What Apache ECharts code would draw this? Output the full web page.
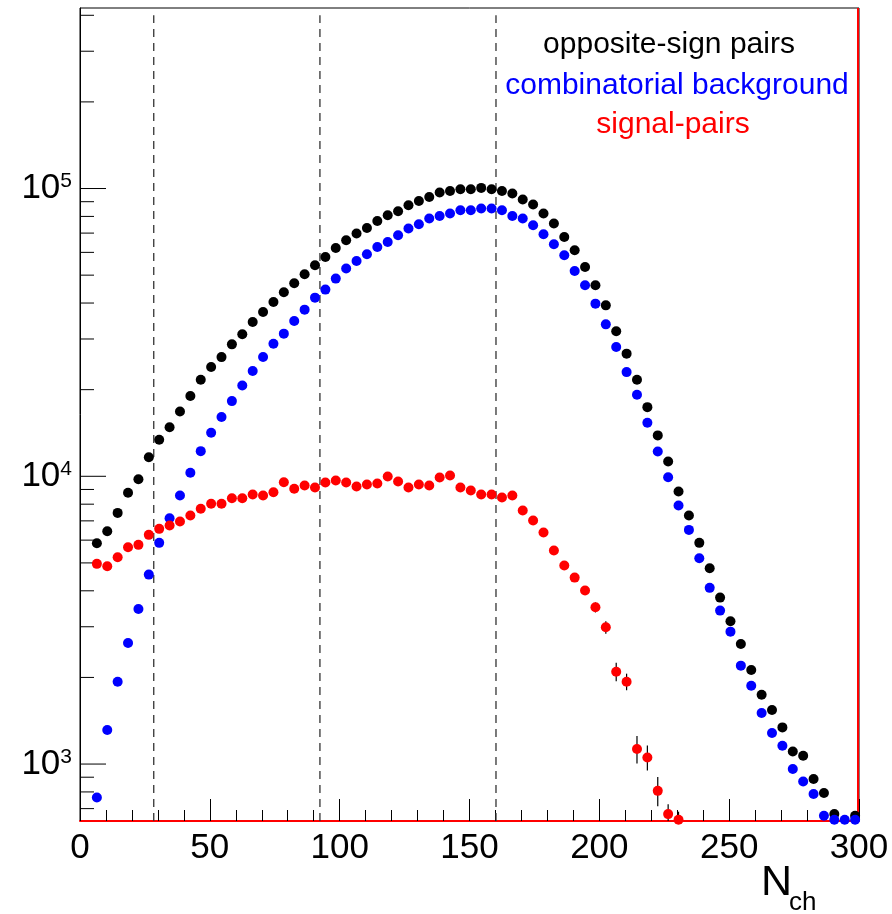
<!DOCTYPE html>
<html><head><meta charset="utf-8">
<script src="https://cdn.jsdelivr.net/npm/echarts@6/dist/echarts.min.js"></script>
<style>html,body{margin:0;padding:0;background:#fff}#c{width:892px;height:914px}</style>
</head><body><div id="c"></div>
<script>
// ---- data ----
const nch = [6.5,10.5,14.5,18.5,22.5,26.5,30.5,34.5,38.5,42.5,46.5,50.5,54.5,58.5,62.5,66.5,70.5,74.5,78.5,82.5,86.5,90.5,94.5,98.5,102.5,106.5,110.5,114.5,118.5,122.5,126.5,130.5,134.5,138.5,142.5,146.5,150.5,154.5,158.5,162.5,166.5,170.5,174.5,178.5,182.5,186.5,190.5,194.5,198.5,202.5,206.5,210.5,214.5,218.5,222.5,226.5,230.5,234.5,238.5,242.5,246.5,250.5,254.5,258.5,262.5,266.5,270.5,274.5,278.5,282.5,286.5,290.5,294.5,298.5];
const oppositeSign = [5850,6440,7460,8760,9770,11650,13400,14800,16800,19000,21650,23970,25950,28740,31140,34360,37230,40350,
  43590,46840,50350,54100,57830,62150,66110,69750,72950,77170,80740,83370,87480,90550,93500,96850,98100,99450,99450,100500,99450,98100,96070,91550,87960,81850,75550,67880,61000,53350,46090,
  39270,31900,26680,21660,17390,13870,11260,8860,7305,5870,4790,3788,3133,2615,2123,1742,1541,1341,1106,1069,887,793,670,null,661];
const combBackground = [765,1313,1933,2636,3460,4553,5870,7150,8575,10280,12230,14170,16060,18250,20690,23210,25960,28900,31310,34640,
  37940,41770,44540,48640,52700,56010,59080,62650,65210,68800,72600,75120,78660,80310,81850,84040,84040,85210,85210,84040,80310,78660,74520,69340,64020,58610,51700,46090,39810,
  33730,28120,23020,19210,15350,12200,9930,7914,6513,5190,4095,3414,2885,2198,1872,1504,1282,1158,961,870,787,661,640,640,640];
const signalPairs = [4963,4868,5231,5667,5777,6258,6567,6743,6962,7306,7709,8023,8023,8391,8391,8644,8577,8805,9539,9049,
  9290,9140,9515,9670,9515,9215,9365,9440,9985,9590,9140,9365,9290,9905,10065,9140,8925,8645,8645,8440,8575,7603,7020,6375,5520,4895,4446,
  4007,3505,2987,2094,1933,1128,1054,807,670,640,null,null,null,null,null,null,null,null,null,null,null,null,null,null,null,null,null];
const signalErr = [0,0,0,0,0,0,0,0,0,0,0,0,0,0,0,0,0,0,0,0,0,0,0,0,0,0,0,0,0,0,0,0,0,0,0,0,0,0,0,0,0,0,0,0,0,0,0,
  130,140,150,155,128,124,105,94,55,43,0,0,0,0,0,0,0,0,0,0,0,0,0,0,0,0,0];
const yMajorTicks = [1000, 10000, 100000];
const yMinorTicks = [700,800,900,2000,3000,4000,5000,6000,7000,8000,9000,20000,30000,40000,50000,60000,70000,80000,90000,200000,300000,400000];
const cutPositions = [28.4, 92.4, 160.2];
const cutTop = 400000;
const yMin = 634, yMax = 424000;
const xMin = 0, xMax = 300, xStep = 50;
const legendLines = ['opposite-sign pairs', 'combinatorial background', 'signal-pairs'];
const axisTitleMain = 'N', axisTitleSub = 'ch';

// ---- chart ----
const FONT = "'Liberation Sans', Arial, Helvetica, sans-serif";
const chart = echarts.init(document.getElementById('c'), null, {renderer: 'canvas'});
const pairs = arr => nch.map((x, i) => arr[i] == null ? null : [x, arr[i]]).filter(d => d);
const errData = nch.map((x, i) => (signalErr[i] > 0 && signalPairs[i] != null) ? [x, signalPairs[i], signalPairs[i] - signalErr[i], signalPairs[i] + signalErr[i]] : null).filter(d => d);
const tickData = yMajorTicks.map(v => [xMin, v, 26]).concat(yMinorTicks.map(v => [xMin, v, 14]));

chart.setOption({
  animation: false,
  backgroundColor: '#fff',
  grid: {left: 80, top: 8, right: 33, bottom: 93, show: true, borderColor: '#000', borderWidth: 1},
  xAxis: {
    type: 'value', min: xMin, max: xMax, interval: xStep,
    axisLine: {show: true, lineStyle: {color: '#ff0000', width: 2}},
    axisTick: {show: true, inside: true, length: 22, lineStyle: {color: '#000', width: 1}},
    minorTick: {show: true, splitNumber: 5, length: 11, lineStyle: {color: '#000', width: 1}},
    splitLine: {show: false},
    axisLabel: {fontSize: 35, color: '#000', fontFamily: FONT, margin: 10}
  },
  yAxis: {
    type: 'log', logBase: 10, min: yMin, max: yMax,
    axisLine: {show: true, lineStyle: {color: '#000', width: 1}},
    axisTick: {show: false},
    splitLine: {show: false},
    axisLabel: {
      margin: 8, color: '#000', fontFamily: FONT,
      formatter: v => {
        const e = Math.log10(v);
        const r = Math.round(e);
        if (Math.abs(e - r) > 1e-6) return '';
        return '{b|10}{s|' + r + '}';
      },
      rich: {
        b: {fontSize: 35, fontFamily: FONT, color: '#000', lineHeight: 35},
        s: {fontSize: 21, fontFamily: FONT, color: '#000', verticalAlign: 'top', lineHeight: 21}
      }
    }
  },
  series: [
    {
      type: 'custom', name: 'cuts', clip: false, silent: true, z: 1,
      data: cutPositions.map(x => [x, cutTop]),
      encode: {x: 0, y: 1},
      renderItem: (params, api) => {
        const p1 = api.coord([api.value(0), yMin]);
        const p2 = api.coord([api.value(0), api.value(1)]);
        return {type: 'line', shape: {x1: p1[0], y1: p1[1], x2: p2[0], y2: p2[1]},
          style: {stroke: '#333', lineWidth: 1.3, lineDash: [8, 6]}};
      }
    },
    {
      type: 'custom', name: 'yticks', clip: false, silent: true, z: 3,
      data: tickData, encode: {x: 0, y: 1},
      renderItem: (params, api) => {
        const p = api.coord([api.value(0), api.value(1)]);
        return {type: 'line', shape: {x1: p[0], y1: p[1], x2: p[0] + api.value(2), y2: p[1]},
          style: {stroke: '#000', lineWidth: 1}};
      }
    },
    {
      type: 'custom', name: 'frame', clip: false, silent: true, z: 4,
      data: [[xMax, yMax]], encode: {x: 0, y: 1},
      renderItem: (params, api) => {
        const top = api.coord([xMax, yMax]);
        const bot = api.coord([xMax, yMin]);
        return {type: 'line', shape: {x1: top[0] - 1, y1: top[1], x2: bot[0] - 1, y2: bot[1]},
          style: {stroke: '#ff0000', lineWidth: 2}};
      }
    },
    {
      type: 'scatter', name: 'opposite-sign pairs', data: pairs(oppositeSign),
      symbol: 'circle', symbolSize: 10, itemStyle: {color: '#000', opacity: 1}, z: 5
    },
    {
      type: 'scatter', name: 'combinatorial background', data: pairs(combBackground),
      symbol: 'circle', symbolSize: 10, itemStyle: {color: '#0000ff', opacity: 1}, z: 6
    },
    {
      type: 'custom', name: 'signal errors', clip: false, silent: true, z: 7,
      data: errData, encode: {x: 0, y: 1},
      renderItem: (params, api) => {
        const lo = Math.max(api.value(2), yMin);
        const p1 = api.coord([api.value(0), lo]);
        const p2 = api.coord([api.value(0), api.value(3)]);
        return {type: 'line', shape: {x1: p1[0], y1: p1[1], x2: p2[0], y2: p2[1]},
          style: {stroke: '#000', lineWidth: 1.2}};
      }
    },
    {
      type: 'scatter', name: 'signal-pairs', data: pairs(signalPairs),
      symbol: 'circle', symbolSize: 10, itemStyle: {color: '#ff0000', opacity: 1}, z: 8
    }
  ],
  graphic: [
    {type: 'text', x: 669, y: 45, z: 10, style: {text: legendLines[0], fill: '#000', font: '30px ' + FONT, textAlign: 'center', textVerticalAlign: 'middle'}},
    {type: 'text', x: 677, y: 85.5, z: 10, style: {text: legendLines[1], fill: '#0000ff', font: '30px ' + FONT, textAlign: 'center', textVerticalAlign: 'middle'}},
    {type: 'text', x: 673, y: 124.5, z: 10, style: {text: legendLines[2], fill: '#ff0000', font: '30px ' + FONT, textAlign: 'center', textVerticalAlign: 'middle'}},
    {type: 'text', x: 761, y: 883, z: 10, style: {text: axisTitleMain, fill: '#000', font: '43px ' + FONT, textAlign: 'left', textVerticalAlign: 'middle'}},
    {type: 'text', x: 789, y: 903, z: 10, style: {text: axisTitleSub, fill: '#000', font: '26px ' + FONT, textAlign: 'left', textVerticalAlign: 'middle'}}
  ]
});
</script></body></html>
